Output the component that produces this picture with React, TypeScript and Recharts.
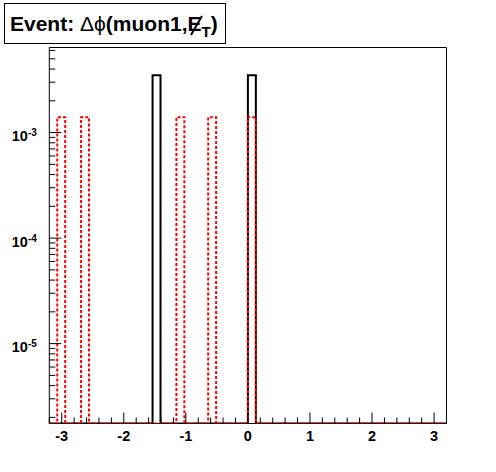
import { ComposedChart, Line, ReferenceArea, XAxis, YAxis } from "recharts";

// histogram binning
const xMin = -3.2;
const xMax = 3.2;
const nBins = 50;
const yMin = 1.75e-6;
const yMax = 6.4e-3;

// filled bins (index -> content), everything else is empty
const blackBins = [13, 25];
const blackValues = [3.5e-3, 3.5e-3];
const redBins = [1, 4, 16, 20, 25];
const redValues = [1.4e-3, 1.4e-3, 1.4e-3, 1.4e-3, 1.4e-3];

const xLabels = [-3, -2, -1, 0, 1, 2, 3];
const yLabels = [1e-5, 1e-4, 1e-3];
const yLabelExp = ["-5", "-4", "-3"];

const FONT = "'Liberation Sans', Arial, Helvetica, sans-serif";

const binWidth = (xMax - xMin) / nBins;

function content(bins: number[], values: number[], k: number) {
  const i = bins.indexOf(k);
  // empty bins sit on the frame floor of the log axis
  return i >= 0 ? values[i] : yMin;
}

const rows = Array.from({ length: nBins + 1 }, (_, k) => {
  const bin = Math.min(k, nBins - 1);
  return {
    x: +(xMin + k * binWidth).toFixed(4),
    black: content(blackBins, blackValues, bin),
    red: content(redBins, redValues, bin),
  };
});

const xTicks = Array.from({ length: 33 }, (_, i) => +((i - 16) * 0.2).toFixed(2));

const yTicks: number[] = [];
for (let e = -6; e <= -3; e++) {
  for (let m = 1; m <= 9; m++) {
    const v = +(m * Math.pow(10, e)).toPrecision(6);
    if (v >= yMin && v <= yMax) yTicks.push(v);
  }
}

function XTick(props: any) {
  const { x, y, payload } = props;
  const v = payload.value as number;
  const major = xLabels.includes(v);
  return (
    <g>
      <line x1={x} x2={x} y1={y} y2={y - (major ? 11 : 6)} stroke="#000" strokeWidth={1} />
      {major && (
        <text x={x} y={y + 17.5} textAnchor="middle" fontFamily={FONT} fontWeight="bold" fontSize={14.5} fill="#000">
          {v}
        </text>
      )}
    </g>
  );
}

function YTick(props: any) {
  const { x, y, payload } = props;
  const v = payload.value as number;
  const idx = yLabels.findIndex((l) => Math.abs(l - v) / l < 1e-6);
  const major = idx >= 0;
  return (
    <g>
      <line x1={x} x2={x + (major ? 12 : 6)} y1={y} y2={y} stroke="#000" strokeWidth={1} />
      {major && (
        <text x={x - 12.5} y={y + 8.5} textAnchor="end" fontFamily={FONT} fontWeight="bold" fontSize={14.5} fill="#000">
          10
          <tspan fontSize={10} dy={-5}>
            {yLabelExp[idx]}
          </tspan>
        </text>
      )}
    </g>
  );
}

export default function App() {
  return (
    <div style={{ position: "absolute", left: 0, top: 0, width: 496, height: 472, background: "#fff" }}>
      <ComposedChart
        width={496}
        height={472}
        data={rows}
        margin={{ top: 47.5, right: 49.5, bottom: 18.5, left: 4.3 }}
      >
        <XAxis
          dataKey="x"
          type="number"
          domain={[xMin, xMax]}
          ticks={xTicks}
          interval={0}
          allowDataOverflow
          axisLine={false}
          tickLine={false}
          tickSize={0}
          tickMargin={0}
          height={30}
          tick={<XTick />}
        />
        <YAxis
          type="number"
          scale="log"
          domain={[yMin, yMax]}
          ticks={yTicks}
          interval={0}
          allowDataOverflow
          axisLine={false}
          tickLine={false}
          tickSize={0}
          tickMargin={0}
          width={45}
          tick={<YTick />}
        />
        <ReferenceArea x1={xMin} x2={xMax} y1={yMin} y2={yMax} fill="none" fillOpacity={0} stroke="#000" strokeWidth={1} />
        <Line
          dataKey="black"
          type="stepAfter"
          stroke="#000"
          strokeWidth={2}
          dot={false}
          activeDot={false}
          isAnimationActive={false}
        />
        <Line
          dataKey="red"
          type="stepAfter"
          stroke="#ff0000"
          strokeWidth={2}
          strokeDasharray="3 2"
          dot={false}
          activeDot={false}
          isAnimationActive={false}
        />
      </ComposedChart>
      <svg width={496} height={50} style={{ position: "absolute", left: 0, top: 0 }}>
        <rect x={4.5} y={3.5} width={221} height={40} fill="#fff" stroke="#000" strokeWidth={1} />
        <text x={10} y={31} fontFamily={FONT} fontWeight="bold" fontSize={21} fill="#000">
          Event:{" "}
          <tspan fontWeight="normal">Δϕ</tspan>
          (muon1,E
          <tspan fontSize={15} dy={6}>T</tspan>
          <tspan dy={-6}>)</tspan>
        </text>
        {/* missing-ET slash through the E */}
        <line x1={191} y1={35} x2={202} y2={16} stroke="#000" strokeWidth={2} />
      </svg>
    </div>
  );
}
